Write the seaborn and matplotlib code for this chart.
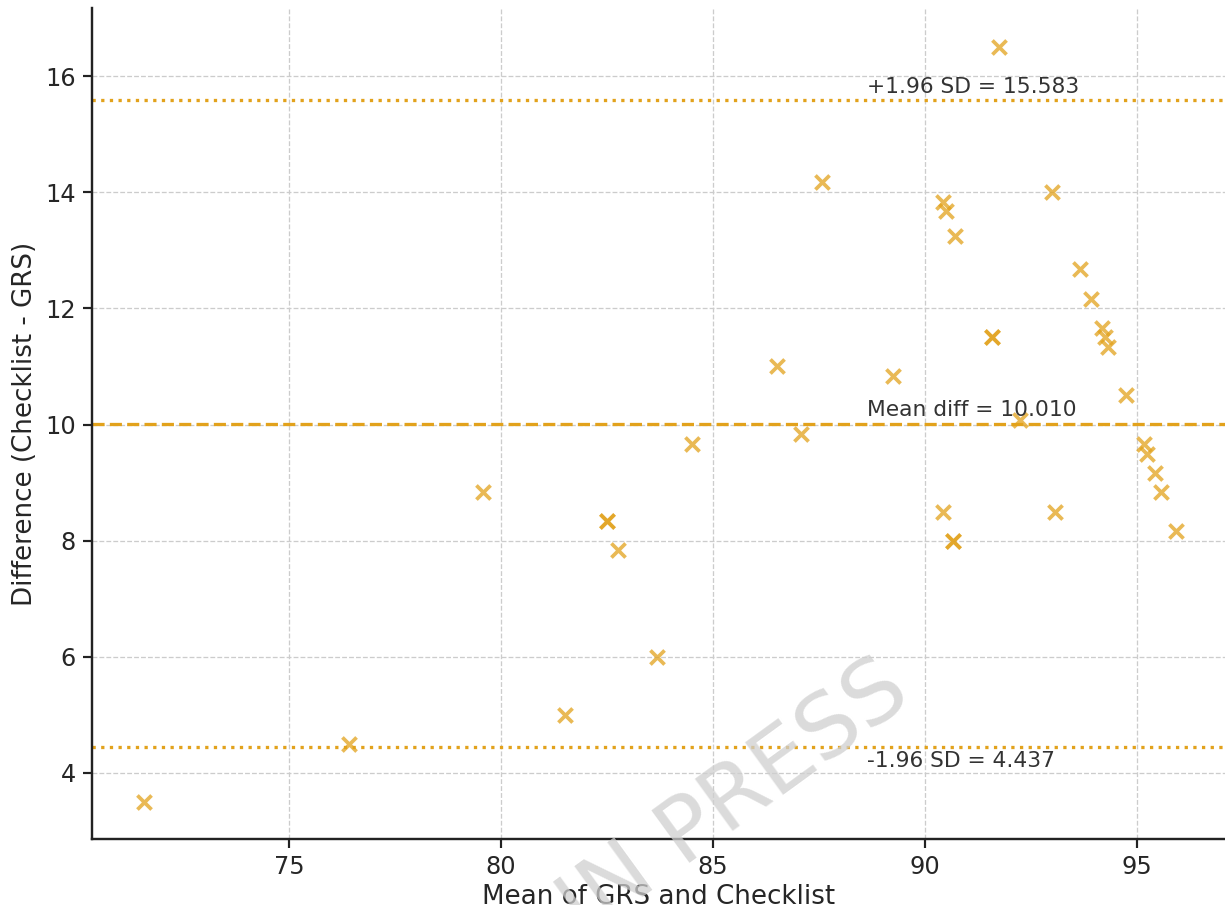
import numpy as np
import pandas as pd
import seaborn as sns
import matplotlib.pyplot as plt

# mean of the two scores and their difference (checklist - GRS)
mean_scores = [71.58, 76.42, 79.58, 81.50, 82.50, 82.50, 82.75, 83.67, 84.50,
               86.50, 87.08, 87.58, 89.25, 90.42, 90.50, 90.70, 91.75, 93.00,
               91.58, 91.58, 93.67, 93.92, 94.17, 94.25, 94.33, 94.75, 92.25,
               95.17, 95.25, 95.42, 95.58, 95.92, 90.42, 90.67, 90.67, 93.08]
diff_scores = [3.50, 4.50, 8.83, 5.00, 8.33, 8.33, 7.83, 6.00, 9.67,
               11.00, 9.83, 14.17, 10.83, 13.83, 13.67, 13.25, 16.50, 14.00,
               11.50, 11.50, 12.67, 12.17, 11.67, 11.50, 11.33, 10.50, 10.08,
               9.67, 9.50, 9.17, 8.83, 8.17, 8.50, 8.00, 8.00, 8.50]

mean_diff = 10.010
upper_loa = 15.583
lower_loa = 4.437

x_ticks = [75, 80, 85, 90, 95]
y_ticks = [4, 6, 8, 10, 12, 14, 16]

gold = "#E2A21C"
font_text = 10
font_tick = 11
font_label = 12

df = pd.DataFrame({"mean": mean_scores, "diff": diff_scores})

sns.set_style("white")
plt.rcParams["font.family"] = ["DejaVu Sans"]

dpi = 157
fig = plt.figure(figsize=(1225 / dpi, 905 / dpi), dpi=dpi)
ax = fig.add_axes([0.0751, 0.0729, 0.9249, 0.918])

sns.scatterplot(data=df, x="mean", y="diff", ax=ax, marker="x", s=42,
                color=gold, alpha=0.75, linewidth=1.7, zorder=3)

# limits of agreement
ax.axhline(mean_diff, color=gold, linestyle="--", linewidth=1.5, zorder=2)
ax.axhline(upper_loa, color=gold, linestyle=":", linewidth=1.5, zorder=2)
ax.axhline(lower_loa, color=gold, linestyle=":", linewidth=1.5, zorder=2)

ax.text(88.63, upper_loa + 0.06, f"+1.96 SD = {upper_loa:.3f}", fontsize=font_text,
        color="#333333", va="bottom", ha="left")
ax.text(88.63, mean_diff + 0.06, f"Mean diff = {mean_diff:.3f}", fontsize=font_text,
        color="#333333", va="bottom", ha="left")
ax.text(88.63, lower_loa - 0.06, f"-1.96 SD = {lower_loa:.3f}", fontsize=font_text,
        color="#333333", va="top", ha="left")

ax.set_xlim(70.35, 97.08)
ax.set_ylim(2.86, 17.17)
ax.set_xticks(x_ticks)
ax.set_yticks(y_ticks)
ax.tick_params(axis="both", labelsize=font_tick, length=4, width=1.0,
               direction="out", color="#222222", bottom=True, left=True)
ax.set_xlabel("Mean of GRS and Checklist", fontsize=font_label, labelpad=2)
ax.set_ylabel("Difference (Checklist - GRS)", fontsize=font_label, labelpad=3)

ax.grid(True, linestyle="--", linewidth=0.6, color="#cccccc", zorder=0)
ax.set_axisbelow(True)
for side in ["top", "right"]:
    ax.spines[side].set_visible(False)
for side in ["left", "bottom"]:
    ax.spines[side].set_color("#222222")
    ax.spines[side].set_linewidth(1.1)

# watermark
fig.text(0.746, 0.2265, "ARTICLE IN PRESS", rotation=36, rotation_mode="anchor",
         ha="right", va="baseline", fontsize=41, color="#cfcfcf", alpha=0.75,
         zorder=5)

fig.savefig("out.png", dpi=dpi)
